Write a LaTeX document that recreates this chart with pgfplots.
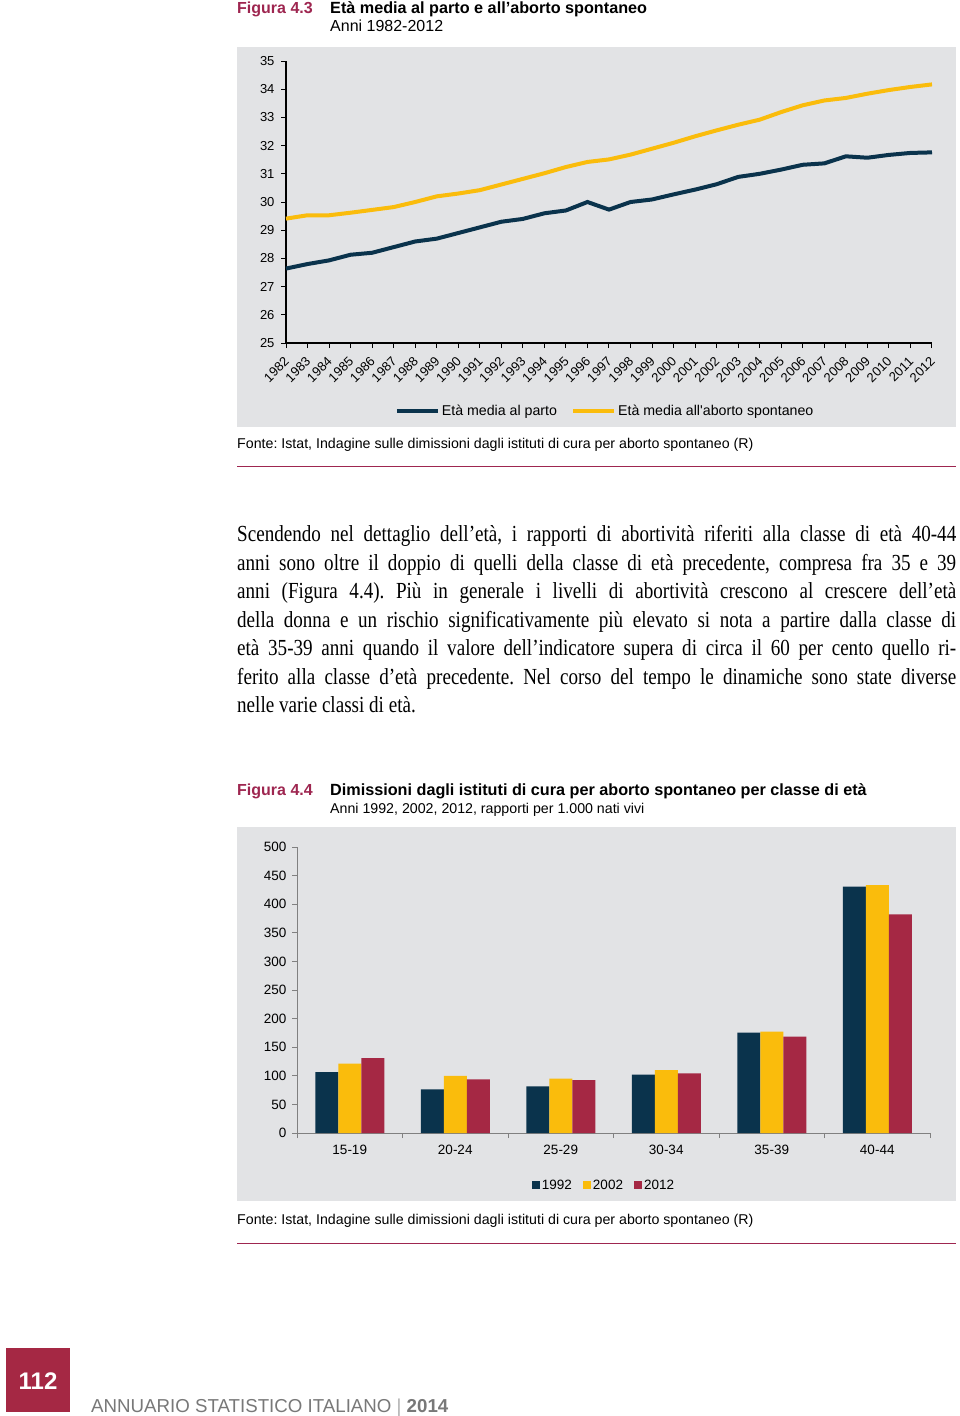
\documentclass[border=0pt]{standalone}
\usepackage{pgfplots}
\pgfplotsset{compat=1.18}
\usepackage{fontspec}
\setmainfont{Liberation Sans}
\newfontfamily\bodyfont[FakeStretch=0.83]{Liberation Serif}
\definecolor{navy}{RGB}{10,51,76}
\definecolor{gold}{RGB}{250,188,12}
\definecolor{crim}{RGB}{165,40,68}
\definecolor{figred}{RGB}{158,38,80}
\definecolor{bggrey}{RGB}{226,227,229}
\definecolor{foot}{RGB}{120,120,120}
\pgfplotstableread{
year parto aborto
1982 27.64 29.41
1983 27.80 29.53
1984 27.93 29.53
1985 28.13 29.62
1986 28.20 29.72
1987 28.40 29.82
1988 28.60 30.00
1989 28.70 30.20
1990 28.90 30.30
1991 29.10 30.42
1992 29.30 30.62
1993 29.40 30.82
1994 29.60 31.02
1995 29.70 31.24
1996 30.00 31.42
1997 29.73 31.51
1998 30.00 31.68
1999 30.09 31.89
2000 30.27 32.10
2001 30.44 32.33
2002 30.63 32.54
2003 30.89 32.74
2004 31.00 32.92
2005 31.15 33.19
2006 31.32 33.43
2007 31.37 33.60
2008 31.62 33.69
2009 31.57 33.84
2010 31.67 33.97
2011 31.74 34.08
2012 31.76 34.17
}\etatable
\pgfplotstableread{
x y1992 y2002 y2012
0.5 106.6 121.2 131.1
1.5 76.4 99.7 93.9
2.5 81.6 94.9 92.3
3.5 101.9 110.1 104.3
4.5 175.4 177.1 168.4
5.5 430.9 433.2 382.3
}\bartable
\frenchspacing
\begin{document}
\begin{tikzpicture}[x=1pt,y=1pt]
\path[use as bounding box, fill=white] (0,0) rectangle (960,-1416);
\fill[bggrey] (237,-47) rectangle (956,-427);
\fill[bggrey] (237,-827) rectangle (956,-1201);
% headings figure 4.3
\node[anchor=base west, inner sep=0, text=figred, font=\fontsize{16}{18}\selectfont\bfseries] at (237,-13) {Figura 4.3};
\node[anchor=base west, inner sep=0, font=\fontsize{16.2}{18}\selectfont\bfseries] at (330,-13) {Età media al parto e all’aborto spontaneo};
\node[anchor=base west, inner sep=0, font=\fontsize{16}{18}\selectfont] at (330,-31) {Anni 1982-2012};
\node[anchor=base west, inner sep=0, font=\fontsize{14.2}{16}\selectfont] at (237,-448) {Fonte: Istat, Indagine sulle dimissioni dagli istituti di cura per aborto spontaneo (R)};
\draw[figred, line width=0.8pt] (237,-466) -- (956,-466);
% body text
\begin{scope}[every node/.style={anchor=base west, inner sep=0, font=\bodyfont\fontsize{23}{26}\selectfont}]
\node at (237,-541.5) {\makebox[719pt][s]{Scendendo nel dettaglio dell’età, i rapporti di abortività riferiti alla classe di età 40-44}};
\node at (237,-570) {\makebox[719pt][s]{anni sono oltre il doppio di quelli della classe di età precedente, compresa fra 35 e 39}};
\node at (237,-598.5) {\makebox[719pt][s]{anni (Figura 4.4). Più in generale i livelli di abortività crescono al crescere dell’età}};
\node at (237,-627) {\makebox[719pt][s]{della donna e un rischio significativamente più elevato si nota a partire dalla classe di}};
\node at (237,-655.5) {\makebox[719pt][s]{età 35-39 anni quando il valore dell’indicatore supera di circa il 60 per cento quello ri-}};
\node at (237,-684) {\makebox[719pt][s]{ferito alla classe d’età precedente. Nel corso del tempo le dinamiche sono state diverse}};
\node at (237,-712.5) {nelle varie classi di età.};
\end{scope}
% headings figure 4.4
\node[anchor=base west, inner sep=0, text=figred, font=\fontsize{16}{18}\selectfont\bfseries] at (237,-795) {Figura 4.4};
\node[anchor=base west, inner sep=0, font=\fontsize{16.2}{18}\selectfont\bfseries] at (330,-795) {Dimissioni dagli istituti di cura per aborto spontaneo per classe di età};
\node[anchor=base west, inner sep=0, font=\fontsize{14.2}{16}\selectfont] at (330,-813) {Anni 1992, 2002, 2012, rapporti per 1.000 nati vivi};
\node[anchor=base west, inner sep=0, font=\fontsize{14.2}{16}\selectfont] at (237,-1224) {Fonte: Istat, Indagine sulle dimissioni dagli istituti di cura per aborto spontaneo (R)};
\draw[figred, line width=0.8pt] (237,-1243) -- (956,-1243);
% footer
\fill[crim] (6,-1348) rectangle (70,-1412);
\node[text=white, font=\fontsize{24}{26}\selectfont\bfseries] at (38,-1381) {112};
\node[anchor=base west, inner sep=0, text=foot, font=\fontsize{18.7}{20}\selectfont] at (91,-1412) {ANNUARIO STATISTICO ITALIANO {\color{foot!60}|} \textbf{2014}};

% line chart
\begin{axis}[
  at={(286pt,-343pt)}, anchor=south west,
  scale only axis, width=646pt, height=282pt,
  xmin=1982, xmax=2012, ymin=25, ymax=35,
  axis x line*=bottom, axis y line*=left,
  axis line style={black, line width=1.6pt, -},
  tick style={black, line width=1pt},
  tick align=outside, major tick length=5pt,
  xtick={1982,...,2012}, ytick={25,...,35},
  /pgf/number format/assume math mode=true,
  /pgf/number format/1000 sep={},
  tick label style={font=\fontsize{13}{14}\selectfont},
  xticklabel style={rotate=45, anchor=east, inner sep=1pt, xshift=-6.5pt, yshift=-8.5pt},
  yticklabel style={xshift=-3pt},
  clip=false,
  legend style={at={(0.494,-0.241)}, anchor=center, draw=none, fill=none,
     legend columns=2, font=\fontsize{14.2}{15}\selectfont,
     /tikz/every even column/.append style={column sep=12pt}},
  legend image code/.code={\draw[#1, line width=4pt] (0pt,0pt) -- (41pt,0pt);},
]
\addplot[navy, line width=4pt] table[x=year, y=parto] {\etatable};
\addlegendentry{Età media al parto}
\addplot[gold, line width=4pt] table[x=year, y=aborto] {\etatable};
\addlegendentry{Età media all\textquotesingle aborto spontaneo}
\end{axis}

% bar chart
\begin{axis}[
  at={(297pt,-1133pt)}, anchor=south west,
  scale only axis, width=633pt, height=286pt,
  xmin=0, xmax=6, ymin=0, ymax=500,
  ybar=0pt, bar width=23pt,
  axis x line*=bottom, axis y line*=left,
  axis line style={gray, line width=1pt, -},
  tick style={gray, line width=0.8pt},
  tick align=outside, major tick length=0pt, minor tick length=5pt,
  xtick={0.5,1.5,...,5.5},
  xticklabels={15-19,20-24,25-29,30-34,35-39,40-44},
  minor xtick={0,1,...,6},
  ytick={0,50,...,500}, minor ytick={0,50,...,500},
  /pgf/number format/assume math mode=true,
  tick label style={font=\fontsize{13.5}{14}\selectfont},
  xticklabel style={yshift=-9pt},
  yticklabel style={xshift=-7pt},
  clip=false,
  legend style={at={(0.485,-0.182)}, anchor=center, draw=none, fill=none,
     legend columns=3, font=\fontsize{13.5}{15}\selectfont,
     /tikz/every odd column/.append style={column sep=0pt},
     /tikz/every even column/.append style={column sep=9pt}},
  legend image code/.code={\fill[#1] (0pt,-4pt) rectangle (8pt,4pt);},
]
\addplot[fill=navy, draw=none] table[x=x, y=y1992] {\bartable};
\addlegendentry{1992}
\addplot[fill=gold, draw=none] table[x=x, y=y2002] {\bartable};
\addlegendentry{2002}
\addplot[fill=crim, draw=none] table[x=x, y=y2012] {\bartable};
\addlegendentry{2012}
\end{axis}
\end{tikzpicture}
\end{document}
